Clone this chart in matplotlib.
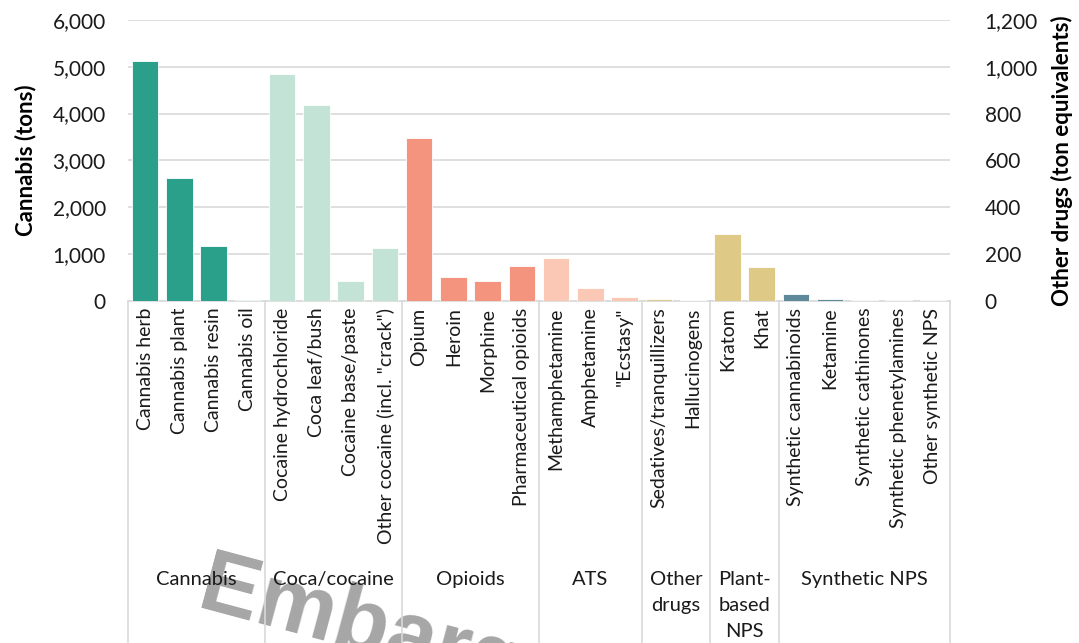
import matplotlib
matplotlib.use("Agg")
import matplotlib.pyplot as plt
import numpy as np

plt.rcParams['font.family'] = ['Lato', 'DejaVu Sans']

# Datos
categorias = [
    'Cannabis herb', 'Cannabis plant', 'Cannabis resin', 'Cannabis oil',
    'Cocaine hydrochloride', 'Coca leaf/bush', 'Cocaine base/paste', 'Other cocaine (incl. "crack")',
    'Opium', 'Heroin', 'Morphine', 'Pharmaceutical opioids',
    'Methamphetamine', 'Amphetamine', '"Ecstasy"',
    'Sedatives/tranquillizers', 'Hallucinogens',
    'Kratom', 'Khat',
    'Synthetic cannabinoids', 'Ketamine', 'Synthetic cathinones',
    'Synthetic phenetylamines', 'Other synthetic NPS',
]
grupos = ['Cannabis', 'Coca/cocaine', 'Opioids', 'ATS', 'Other\ndrugs', 'Plant-\nbased\nNPS', 'Synthetic NPS']
tamano_grupos = [4, 4, 4, 3, 2, 2, 5]

# Cannabis en toneladas (eje izquierdo)
cannabis_tons = [5130, 2627, 1170, 15]
# Otras drogas en toneladas equivalentes (eje derecho)
otras_tons = [967, 837, 85, 227,
              696, 102, 84, 150,
              184, 55, 14,
              8, 1,
              284, 143,
              27, 8, 2, 1, 1]

colores_grupos = ['#2aa08a', '#c4e3d7', '#f4937e', '#fbc8b5', '#dccb8e', '#dec987', '#5e8a9c']
# los tres ultimos NPS casi invisibles, mas claros
colores_extra = {21: '#b9c8ce', 22: '#b9c8ce', 23: '#b9c8ce', 16: '#e8ddb8'}

colores = []
for g, n in enumerate(tamano_grupos):
    colores.extend([colores_grupos[g]] * n)
for i, c in colores_extra.items():
    colores[i] = c

x = np.arange(len(categorias))

fig = plt.figure(figsize=(10.79, 6.43), dpi=100)
ax = fig.add_axes([128 / 1079, 1 - 300.6 / 643, (950 - 128) / 1079, 280.6 / 643])
ax2 = ax.twinx()

ax.bar(x[:4], cannabis_tons, width=0.78, color=colores[:4], edgecolor='white', linewidth=0.6, zorder=3)
ax2.bar(x[4:], otras_tons, width=0.78, color=colores[4:], edgecolor='white', linewidth=0.6, zorder=3)

ax.set_xlim(-0.5, len(categorias) - 0.5)
ax.set_ylim(0, 6000)
ax2.set_ylim(0, 1200)
ax.set_yticks(np.arange(0, 6001, 1000))
ax2.set_yticks(np.arange(0, 1201, 200))
ax.set_yticklabels([f"{v:,}" for v in range(0, 6001, 1000)])
ax2.set_yticklabels([f"{v:,}" for v in range(0, 1201, 200)])
ax.yaxis.grid(True, color='#d9d9d9', linewidth=1.2, zorder=0)
ax.set_axisbelow(True)

for a in (ax, ax2):
    for s in a.spines.values():
        s.set_visible(False)
    a.tick_params(axis='y', length=0, labelsize=15, colors='#1a1a1a')
ax.tick_params(axis='y', pad=16)
ax2.tick_params(axis='y', pad=25)
ax.spines['bottom'].set_visible(True)
ax.spines['bottom'].set_color('#d9d9d9')
ax.spines['bottom'].set_linewidth(1.2)

ax.set_xticks(x)
ax.set_xticklabels(categorias, rotation=90, fontsize=14, color='#1a1a1a')
ax.tick_params(axis='x', length=0, pad=5)

ax.set_ylabel('Cannabis (tons)', fontsize=16, fontweight='bold', labelpad=12)
ax2.set_ylabel('Other drugs (ton equivalents)', fontsize=16, fontweight='bold', labelpad=9)

# Separadores de grupos y etiquetas
trans = ax.get_xaxis_transform()
limites = np.concatenate([[0], np.cumsum(tamano_grupos)]) - 0.5
for b in limites:
    ax.plot([b, b], [0, -1.4], transform=trans, color='#d9d9d9', linewidth=1.2, clip_on=False)
for g, nombre in enumerate(grupos):
    centro = (limites[g] + limites[g + 1]) / 2
    ax.text(centro, -0.964, nombre, transform=trans, ha='center', va='top',
            fontsize=14.5, linespacing=1.65, color='#1a1a1a')

# Marca de agua
fig.text(212 / 1079, 1 - 545 / 643, 'Embargoed', fontsize=64, fontweight='bold',
         family='Liberation Sans', color='#a6a6a6', rotation=-15, rotation_mode='anchor',
         ha='left', va='top', zorder=-1)

fig.savefig('out.png', dpi=100)
